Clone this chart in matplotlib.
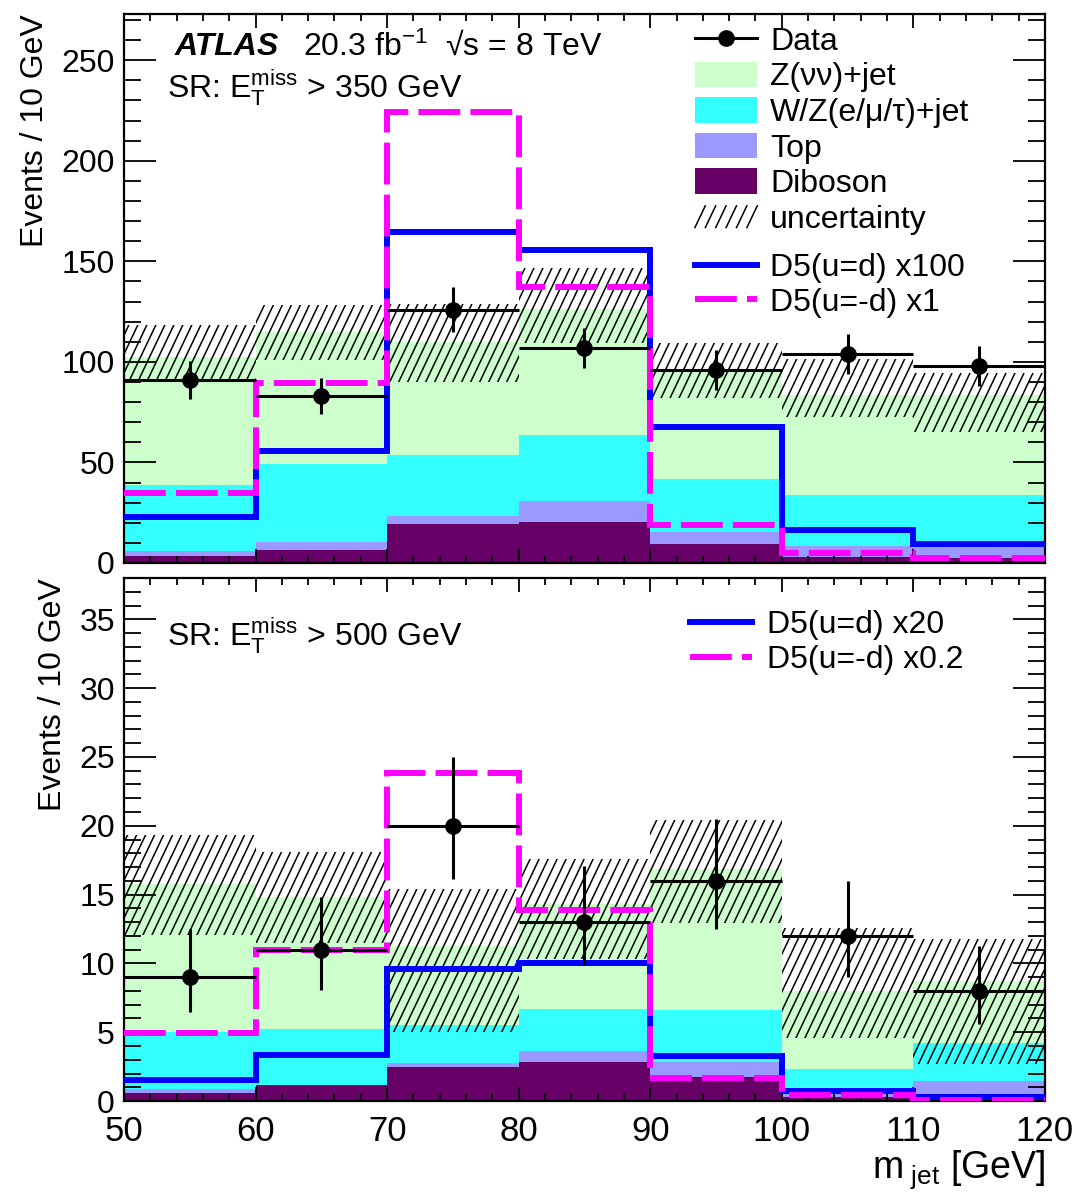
#!/usr/bin/env python3
"""
Distribución de m_jet en dos regiones de señal (ATLAS, 20.3 fb-1, 8 TeV)
Fondo apilado, banda de incertidumbre, datos y dos señales D5
"""
import numpy as np
import matplotlib
matplotlib.use("Agg")
import matplotlib.pyplot as plt
from matplotlib.lines import Line2D
from matplotlib.patches import Patch
from matplotlib.collections import LineCollection
from matplotlib.legend_handler import HandlerBase
from matplotlib.ticker import MultipleLocator

plt.rcParams['font.family'] = ['Liberation Sans', 'DejaVu Sans']
plt.rcParams['mathtext.fontset'] = 'custom'
plt.rcParams['mathtext.rm'] = 'Liberation Sans'
plt.rcParams['mathtext.it'] = 'Liberation Sans:italic'
plt.rcParams['mathtext.bf'] = 'Liberation Sans:bold'

# Bins en m_jet [GeV]
bin_edges = [50, 60, 70, 80, 90, 100, 110, 120]

# --- SR: E_T^miss > 350 GeV ---
data_350 = [91, 83, 126, 107, 96, 104, 98]
data_errlo_350 = [9.5, 9, 11, 10, 10, 10, 10]
data_errhi_350 = [9.5, 9, 11, 10, 10, 10, 10]
znn_350 = [63.5, 66.0, 56.5, 63.0, 53.0, 49.5, 49.5]
wz_350 = [33.0, 38.5, 30.0, 32.5, 26.5, 25.5, 26.0]
top_350 = [2.5, 4.0, 4.0, 10.5, 6.0, 5.5, 5.5]
diboson_350 = [3.5, 6.5, 19.5, 20.5, 9.5, 3.0, 2.5]
unc_lo_350 = [91.5, 101, 90, 109.5, 82, 72.5, 65]
unc_hi_350 = [118.5, 128.5, 129, 146.5, 109.5, 101.5, 94.5]
d5_ud_350 = [23, 55.5, 164.5, 155.5, 67.5, 16.5, 9.5]     # x100
d5_umd_350 = [35, 89.5, 224, 137, 19, 5, 2.5]            # x1

# --- SR: E_T^miss > 500 GeV ---
data_500 = [9, 11, 20, 13, 16, 12, 8]
data_errlo_500 = [2.5, 2.9, 3.9, 3.1, 3.5, 3.0, 2.4]
data_errhi_500 = [3.5, 3.8, 5.0, 4.1, 4.5, 4.0, 3.3]
znn_500 = [10.75, 9.55, 5.8, 7.6, 10.25, 5.7, 4.5]
wz_500 = [4.2, 4.05, 2.75, 3.1, 3.75, 1.5, 2.8]
top_500 = [0.3, 0.05, 0.25, 0.75, 1.1, 0.5, 1.15]
diboson_500 = [0.55, 1.15, 2.5, 2.85, 1.75, 0.3, 0.3]
unc_lo_500 = [12.1, 11.5, 5.0, 10.3, 12.9, 4.6, 2.7]
unc_hi_500 = [19.3, 18.1, 15.4, 17.6, 20.4, 12.6, 11.8]
d5_ud_500 = [1.5, 3.35, 9.6, 10.0, 3.3, 0.7, 0.3]         # x20
d5_umd_500 = [4.95, 11.0, 23.85, 13.9, 1.7, 0.45, 0.1]    # x0.2

# Colores estilo ROOT
c_znn = '#ccffcc'
c_wz = '#33ffff'
c_top = '#9999ff'
c_diboson = '#660066'
c_ud = '#0000ff'
c_umd = '#ff00ff'
dash_umd = (0, (7, 1.7))

FS = 23
FS_X = 25
HATCH_LW = 1.1


class UncProxy:
    """Objeto vacío para la entrada 'uncertainty' de la leyenda"""
    pass


class HandlerSlash(HandlerBase):
    """Rayas inclinadas como en el estilo de ROOT"""
    def create_artists(self, legend, orig_handle, xdescent, ydescent,
                       width, height, fontsize, trans):
        h = height * 0.85
        y0 = -ydescent + 0.5 * (height - h)
        run = h / 2.1
        arts = []
        for x in np.linspace(-xdescent, -xdescent + width - run, 6):
            arts.append(Line2D([x, x + run], [y0, y0 + h], color='black',
                               lw=HATCH_LW, transform=trans))
        return arts


def hatch_band(ax, lo, hi, spacing_px=9.0, slope=2.1):
    """Banda de incertidumbre con rayado inclinado (recortado a la banda)"""
    edges = np.array(bin_edges, dtype=float)
    band = ax.stairs(hi, edges, baseline=lo, fill=True, facecolor='none',
                     lw=0, zorder=1)
    w_px = ax.bbox.width
    h_px = ax.bbox.height
    run = h_px / (slope * w_px)
    step = spacing_px / w_px
    segs = [[(x0, 0.0), (x0 + run, 1.0)] for x0 in np.arange(-run, 1.0, step)]
    lc = LineCollection(segs, transform=ax.transAxes, colors='black',
                        linewidths=HATCH_LW, zorder=1)
    lc.set_clip_path(band)
    ax.add_collection(lc, autolim=False)


def draw_panel(ax, data, errlo, errhi, znn, wz, top, diboson,
               unc_lo, unc_hi, sig_ud, sig_umd):
    """Dibuja un panel: pila de fondos, incertidumbre, señales y datos"""
    edges = np.array(bin_edges, dtype=float)
    centers = 0.5 * (edges[:-1] + edges[1:])
    half = 0.5 * np.diff(edges)

    base = np.zeros(len(centers))
    for vals, col in [(diboson, c_diboson), (top, c_top), (wz, c_wz), (znn, c_znn)]:
        tot = base + np.asarray(vals)
        ax.stairs(tot, edges, baseline=base, fill=True, color=col, lw=0, zorder=0.5)
        base = tot

    hatch_band(ax, unc_lo, unc_hi)

    ax.stairs(sig_ud, edges, baseline=None, color=c_ud, lw=4.3, zorder=3)
    ax.stairs(sig_umd, edges, baseline=None, color=c_umd, lw=4.3,
              linestyle=dash_umd, zorder=3.1)

    ax.errorbar(centers, data, yerr=[errlo, errhi], xerr=half, fmt='o',
                color='black', ms=11, lw=2.2, capsize=0, zorder=4)

    ax.set_xlim(50, 120)
    ax.xaxis.set_major_locator(MultipleLocator(10))
    ax.xaxis.set_minor_locator(MultipleLocator(2))
    ax.tick_params(which='both', direction='in', top=True, right=True, width=1.3)
    ax.tick_params(axis='y', which='major', length=23, pad=6.5, labelsize=FS)
    ax.tick_params(axis='y', which='minor', length=12)
    ax.tick_params(axis='x', which='major', length=10, pad=10, labelsize=FS_X)
    ax.tick_params(axis='x', which='minor', length=5)
    for sp in ax.spines.values():
        sp.set_linewidth(1.6)
    ax.set_ylabel('Events / 10 GeV', fontsize=FS, loc='top', labelpad=8)


def main():
    fig = plt.figure(figsize=(10.75, 11.92), dpi=100)
    ax1 = fig.add_axes([0.1153, 0.5277, 0.8567, 0.4606])
    ax2 = fig.add_axes([0.1153, 0.0763, 0.8567, 0.4388])

    leg_kw = dict(loc='upper left', frameon=False, fontsize=FS, borderpad=0,
                  borderaxespad=0, handlelength=1.95, handletextpad=0.4,
                  labelspacing=0.15)

    # Panel superior
    draw_panel(ax1, data_350, data_errlo_350, data_errhi_350, znn_350, wz_350,
               top_350, diboson_350, unc_lo_350, unc_hi_350, d5_ud_350, d5_umd_350)
    ax1.set_ylim(0, 273)
    ax1.yaxis.set_major_locator(MultipleLocator(50))
    ax1.yaxis.set_minor_locator(MultipleLocator(10))
    ax1.tick_params(labelbottom=False)

    ax1.text(0.055, 0.94, 'ATLAS', transform=ax1.transAxes, fontsize=FS,
             fontweight='bold', fontstyle='italic', va='center')
    ax1.text(0.194, 0.94, r'20.3 fb$^{\mathregular{-1}}$  √s = 8 TeV',
             transform=ax1.transAxes, fontsize=FS, va='center')
    ax1.text(0.047, 0.865, r'SR: $\mathregular{E_{T}^{miss}}$ > 350 GeV',
             transform=ax1.transAxes, fontsize=FS, va='center')

    unc_proxy = UncProxy()
    h_bkg = [
        Line2D([], [], color='black', marker='o', ms=11, lw=2.2),
        Patch(facecolor=c_znn, edgecolor='none'),
        Patch(facecolor=c_wz, edgecolor='none'),
        Patch(facecolor=c_top, edgecolor='none'),
        Patch(facecolor=c_diboson, edgecolor='none'),
        unc_proxy,
    ]
    l_bkg = ['Data', 'Z(νν)+jet', 'W/Z(e/μ/τ)+jet', 'Top', 'Diboson', 'uncertainty']
    leg1 = ax1.legend(h_bkg, l_bkg, bbox_to_anchor=(0.62, 0.978),
                      handleheight=0.85, handler_map={UncProxy: HandlerSlash()},
                      **leg_kw)
    ax1.add_artist(leg1)
    h_sig = [Line2D([], [], color=c_ud, lw=4.3),
             Line2D([], [], color=c_umd, lw=4.3, linestyle=dash_umd)]
    ax1.legend(h_sig, ['D5(u=d) x100', 'D5(u=-d) x1'],
               bbox_to_anchor=(0.62, 0.565), **leg_kw)

    # Panel inferior
    draw_panel(ax2, data_500, data_errlo_500, data_errhi_500, znn_500, wz_500,
               top_500, diboson_500, unc_lo_500, unc_hi_500, d5_ud_500, d5_umd_500)
    ax2.set_ylim(0, 38)
    ax2.yaxis.set_major_locator(MultipleLocator(5))
    ax2.yaxis.set_minor_locator(MultipleLocator(1))
    ax2.text(0.047, 0.889, r'SR: $\mathregular{E_{T}^{miss}}$ > 500 GeV',
             transform=ax2.transAxes, fontsize=FS, va='center')
    kw2 = dict(leg_kw, handletextpad=0.47)
    ax2.legend(h_sig, ['D5(u=d) x20', 'D5(u=-d) x0.2'],
               bbox_to_anchor=(0.6145, 0.939), **kw2)
    ax2.set_xlabel(r'm$_{\mathregular{\ jet}}$ [GeV]', fontsize=27, loc='right',
                   labelpad=0)

    fig.savefig('out.png', dpi=100)
    plt.close(fig)


if __name__ == "__main__":
    main()
